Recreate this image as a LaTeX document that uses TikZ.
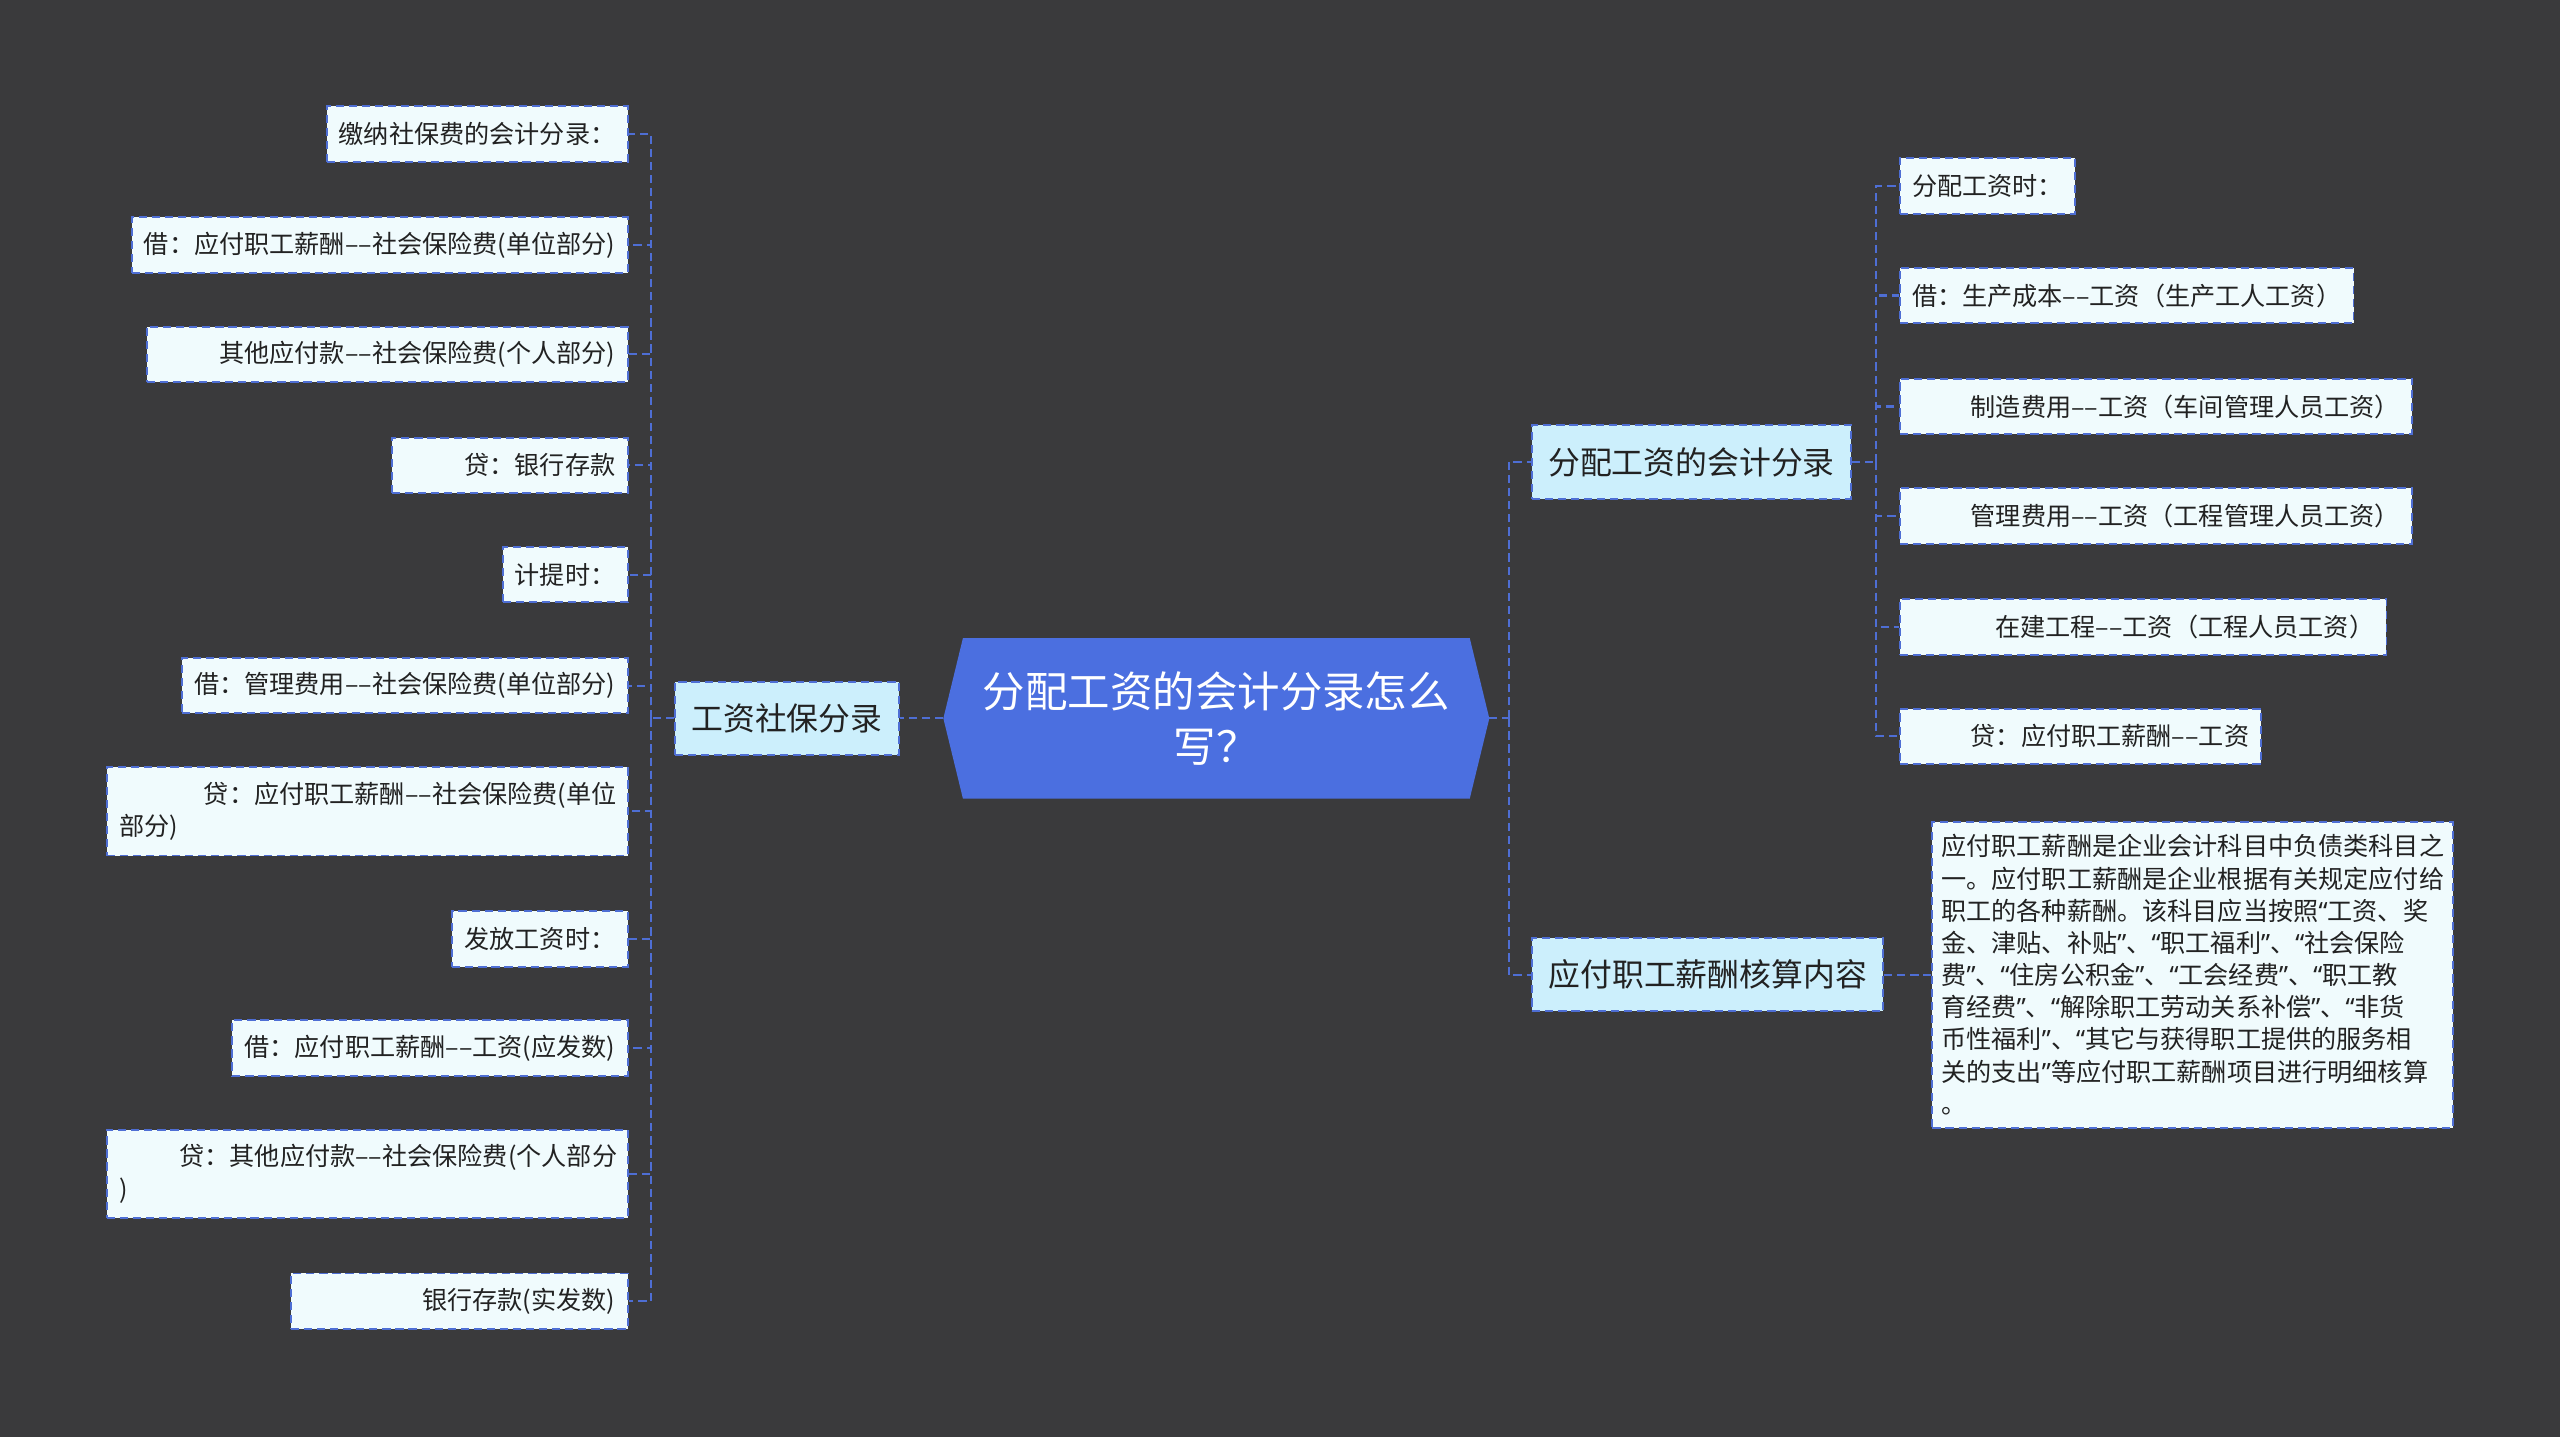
\documentclass[tikz,border=0pt]{standalone}
\usepackage{fontspec}
\newfontfamily\cjk{Noto Sans CJK SC}
\newfontfamily\latinq{Noto Sans}
\newcommand\qo{{\latinq “}}
\newcommand\qc{{\latinq ”}}
\usepackage{tikz}
\usetikzlibrary{positioning, backgrounds, calc}
\definecolor{bgdark}{RGB}{58,58,60}
\definecolor{rootblue}{RGB}{75,111,224}
\definecolor{linkblue}{RGB}{78,110,212}
\definecolor{branchfill}{RGB}{204,239,252}
\definecolor{leaffill}{RGB}{240,251,253}
\definecolor{inkdark}{RGB}{34,34,34}

\begin{document}
\begin{tikzpicture}[
        x=1pt, y=-1pt,
        rootbox/.style={inner sep=0pt, minimum width=310pt, minimum height=98pt, align=center, text=white, font=\cjk\fontsize{26}{34}\selectfont},
        branchbox/.style={draw=linkblue, line width=1.2pt, dash pattern=on 5pt off 3pt, fill=branchfill, inner xsep=10pt, inner ysep=0pt, minimum height=45pt, text=inkdark, font=\cjk\fontsize{19.5}{24}\selectfont},
        leafbox/.style={draw=linkblue, line width=1.2pt, dash pattern=on 5pt off 3pt, fill=leaffill, inner xsep=7.5pt, inner ysep=0pt, minimum height=34pt, align=left, text=inkdark, font=\cjk\fontsize{15.4}{20}\selectfont},
        link/.style={draw=linkblue, line width=1.3pt, dash pattern=on 5pt off 3pt}
    ]

    \useasboundingbox (0,0) rectangle (1568,880);

    \node[rootbox] (root) at (745,440) {分配工资的会计分录怎么\\写？};
    \coordinate (rootL) at ([xshift=-12pt]root.west);
    \coordinate (rootR) at ([xshift=12pt]root.east);

    \node[branchbox] (bL) at (482,440) {工资社保分录};
    \node[branchbox] (bR1) at (1036,283) {分配工资的会计分录};
    \node[branchbox] (bR2) at (1046,597) {应付职工薪酬核算内容};

    \node[leafbox, anchor=east] (l1) at (385,82) {缴纳社保费的会计分录：};
    \node[leafbox, anchor=east] (l2) at (385,150) {借：应付职工薪酬––社会保险费(单位部分)};
    \node[leafbox, anchor=east] (l3) at (385,217) {\hspace*{37pt}其他应付款––社会保险费(个人部分)};
    \node[leafbox, anchor=east] (l4) at (385,285) {\hspace*{37pt}贷：银行存款};
    \node[leafbox, anchor=east] (l5) at (385,352) {计提时：};
    \node[leafbox, anchor=east] (l6) at (385,420) {借：管理费用––社会保险费(单位部分)};
    \node[leafbox, anchor=east, text width=304pt, minimum height=54pt] (l7) at (385,497) {\mbox{\hspace*{52pt}贷：应付职工薪酬––社会保险费(单位}\\部分)};
    \node[leafbox, anchor=east] (l8) at (385,575) {发放工资时：};
    \node[leafbox, anchor=east] (l9) at (385,642) {借：应付职工薪酬––工资(应发数)};
    \node[leafbox, anchor=east, text width=304pt, minimum height=54pt] (l10) at (385,719) {\mbox{\hspace*{37pt}贷：其他应付款––社会保险费(个人部分}\\)};
    \node[leafbox, anchor=east] (l11) at (385,797) {\hspace*{73pt}银行存款(实发数)};

    \node[leafbox, anchor=west] (r1) at (1163,114) {分配工资时：};
    \node[leafbox, anchor=west] (r2) at (1163,181) {借：生产成本––工资（生产工人工资）};
    \node[leafbox, anchor=west] (r3) at (1163,249) {\hspace*{36pt}制造费用––工资（车间管理人员工资）};
    \node[leafbox, anchor=west] (r4) at (1163,316) {\hspace*{36pt}管理费用––工资（工程管理人员工资）};
    \node[leafbox, anchor=west] (r5) at (1163,384) {\hspace*{51pt}在建工程––工资（工程人员工资）};
    \node[leafbox, anchor=west] (r6) at (1163,451) {\hspace*{36pt}贷：应付职工薪酬––工资};

    \node[leafbox, anchor=west, text width=308pt, inner xsep=5.5pt, inner ysep=8pt, font=\cjk\fontsize{15.4}{19.7}\selectfont] (p) at (1183,597) {应付职工薪酬是企业会计科目中负债类科目之\\一。应付职工薪酬是企业根据有关规定应付给\\职工的各种薪酬。该科目应当按照\qo 工资、奖\\金、津贴、补贴\qc 、\qo 职工福利\qc 、\qo 社会保险\\费\qc 、\qo 住房公积金\qc 、\qo 工会经费\qc 、\qo 职工教\\育经费\qc 、\qo 解除职工劳动关系补偿\qc 、\qo 非货\\币性福利\qc 、\qo 其它与获得职工提供的服务相\\关的支出\qc 等应付职工薪酬项目进行明细核算\\。};

    \begin{scope}[on background layer]
        \fill[bgdark] (0,0) rectangle (1568,880);
        \fill[rootblue] (rootL) -- (root.north west) -- (root.north east) -- (rootR) -- (root.south east) -- (root.south west) -- cycle;
    \end{scope}

    \coordinate (jL) at (399,440);
    \coordinate (jR) at (924,440);
    \coordinate (jR1) at (1149,283);

    \draw[link] (rootL) -- (bL.east);
    \draw[link] (bL.west) -- (jL);
    \draw[link] (jL) |- (l1.east);
    \draw[link] (jL) |- (l2.east);
    \draw[link] (jL) |- (l3.east);
    \draw[link] (jL) |- (l4.east);
    \draw[link] (jL) |- (l5.east);
    \draw[link] (jL) |- (l6.east);
    \draw[link] (jL) |- (l7.east);
    \draw[link] (jL) |- (l8.east);
    \draw[link] (jL) |- (l9.east);
    \draw[link] (jL) |- (l10.east);
    \draw[link] (jL) |- (l11.east);

    \draw[link] (rootR) -- (jR);
    \draw[link] (jR) |- (bR1.west);
    \draw[link] (jR) |- (bR2.west);

    \draw[link] (bR1.east) -- (jR1);
    \draw[link] (jR1) |- (r1.west);
    \draw[link] (jR1) |- (r2.west);
    \draw[link] (jR1) |- (r3.west);
    \draw[link] (jR1) |- (r4.west);
    \draw[link] (jR1) |- (r5.west);
    \draw[link] (jR1) |- (r6.west);

    \draw[link] (bR2.east) -- (p.west);

    \end{tikzpicture}
\end{document}
